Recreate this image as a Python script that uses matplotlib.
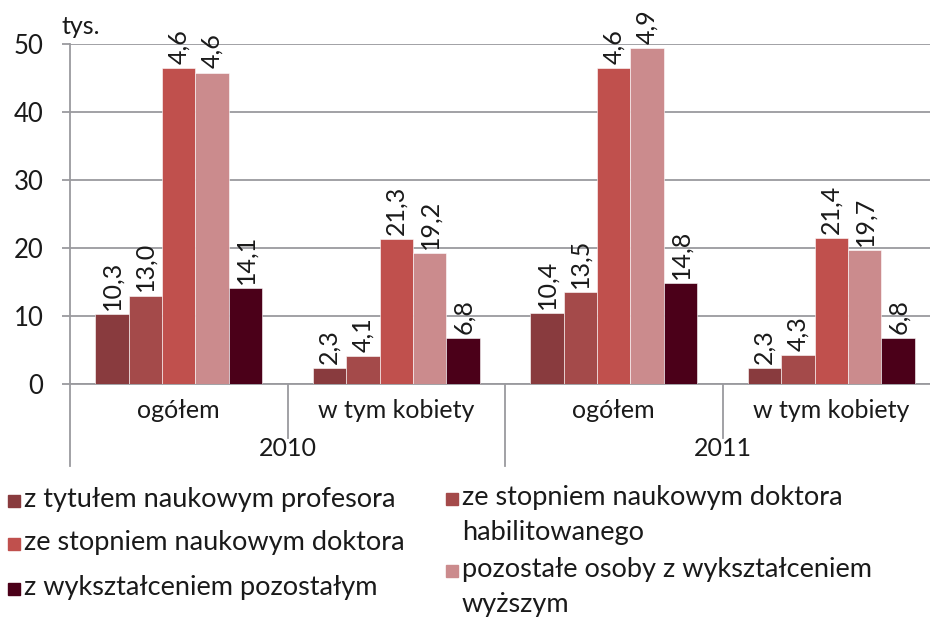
import matplotlib
matplotlib.use("Agg")
import matplotlib.pyplot as plt
from matplotlib.patches import Rectangle
from matplotlib.transforms import blended_transform_factory
import numpy as np

plt.rcParams['font.family'] = ['Lato', 'DejaVu Sans']

years = ["2010", "2011"]
subcats = ["ogółem", "w tym kobiety", "ogółem", "w tym kobiety"]
series_names = [
    "z tytułem naukowym profesora",
    "ze stopniem naukowym doktora\nhabilitowanego",
    "ze stopniem naukowym doktora",
    "pozostałe osoby z wykształceniem\nwyższym",
    "z wykształceniem pozostałym",
]
colors = ["#893B3E", "#A44A4A", "#C0504D", "#CB8B8D", "#4B0019"]

# bar heights (thousands) per series, across the 4 categories
profesor = [10.3, 2.3, 10.4, 2.3]
dr_hab = [13.0, 4.1, 13.5, 4.3]
doktor = [46.4, 21.3, 46.4, 21.4]
pozostale_wyzsze = [45.8, 19.2, 49.4, 19.7]
pozostale = [14.1, 6.8, 14.8, 6.8]
values = [profesor, dr_hab, doktor, pozostale_wyzsze, pozostale]

# data labels as printed on the chart
lab_profesor = ["10,3", "2,3", "10,4", "2,3"]
lab_dr_hab = ["13,0", "4,1", "13,5", "4,3"]
lab_doktor = ["4,6", "21,3", "4,6", "21,4"]
lab_pozostale_wyzsze = ["4,6", "19,2", "4,9", "19,7"]
lab_pozostale = ["14,1", "6,8", "14,8", "6,8"]
labels = [lab_profesor, lab_dr_hab, lab_doktor, lab_pozostale_wyzsze, lab_pozostale]

W, H = 930, 619
fig = plt.figure(figsize=(9.3, 6.19), dpi=100)
ax_l, ax_r, ax_b, ax_t = 70, 930, 384, 44
ax = fig.add_axes([ax_l / W, 1 - ax_b / H, (ax_r - ax_l) / W, (ax_b - ax_t) / H])

cat_px = 217.5
ax.set_xlim(0, (ax_r - ax_l) / cat_px)
ax.set_ylim(0, 50)

FS = 18
txt_c = "#1a1a1a"
bw = 0.154
centers = np.arange(4) + 0.5
for i, (vals, labs, col) in enumerate(zip(values, labels, colors)):
    xs = centers + (i - 2) * bw
    ax.bar(xs, vals, width=bw, color=col, edgecolor="white", linewidth=0.4, zorder=3)
    for x, v, t in zip(xs, vals, labs):
        ax.annotate(t, (x, v), xytext=(0, 3), textcoords="offset points",
                    rotation=90, ha="center", va="bottom", fontsize=FS,
                    color=txt_c, zorder=4)

grid_c = "#9a9a9e"
ax.set_yticks([0, 10, 20, 30, 40, 50])
ax.yaxis.grid(True, color=grid_c, linewidth=1.3, zorder=0)
ax.set_xticks([])
ax.tick_params(axis="y", length=6, width=1.3, color=grid_c, pad=13, labelsize=FS + 0.5,
               labelcolor=txt_c)
for s in ["top", "right"]:
    ax.spines[s].set_visible(False)
ax.spines["left"].set_color(grid_c)
ax.spines["left"].set_linewidth(1.3)
ax.spines["bottom"].set_color(grid_c)
ax.spines["bottom"].set_linewidth(1.3)

# category axis: separators and labels
tr = blended_transform_factory(ax.transData, ax.transAxes)
hpx = ax_b - ax_t
def yfrac(py):
    return -(py - ax_b) / hpx

ax.plot([0, 0], [0, yfrac(466)], transform=tr, color=grid_c, lw=1.3, clip_on=False)
for xb, bottom in [(1, 438), (2, 466), (3, 438)]:
    ax.plot([xb, xb], [0, yfrac(bottom)], transform=tr, color=grid_c, lw=1.3, clip_on=False)
for c, name in zip(centers, subcats):
    ax.text(c, yfrac(411), name, transform=tr, ha="center", va="center",
            fontsize=FS, color=txt_c)
for j, yr in enumerate(years):
    ax.text(1.0 + 2 * j, yfrac(449), yr, transform=tr, ha="center", va="center",
            fontsize=FS, color=txt_c)

fig.text(61 / W, 1 - 27 / H, "tys.", ha="left", va="center", fontsize=FS, color=txt_c)

# legend (two columns, row-major order); positions = (square left, first baseline)
LFS = 19.5
line_gap = 35
leg_pos = [(8, 507), (446, 505), (8, 550), (446, 577), (8, 595)]
for (px, py), name, col in zip(leg_pos, series_names, colors):
    sq = 12
    fig.patches.append(Rectangle((px / W, 1 - py / H), sq / W, sq / H,
                                 transform=fig.transFigure, color=col))
    for k, line in enumerate(name.split("\n")):
        fig.text((px + sq + 4) / W, 1 - (py + k * line_gap) / H, line, ha="left",
                 va="baseline", fontsize=LFS, color=txt_c)

fig.savefig("out.png", dpi=100)
